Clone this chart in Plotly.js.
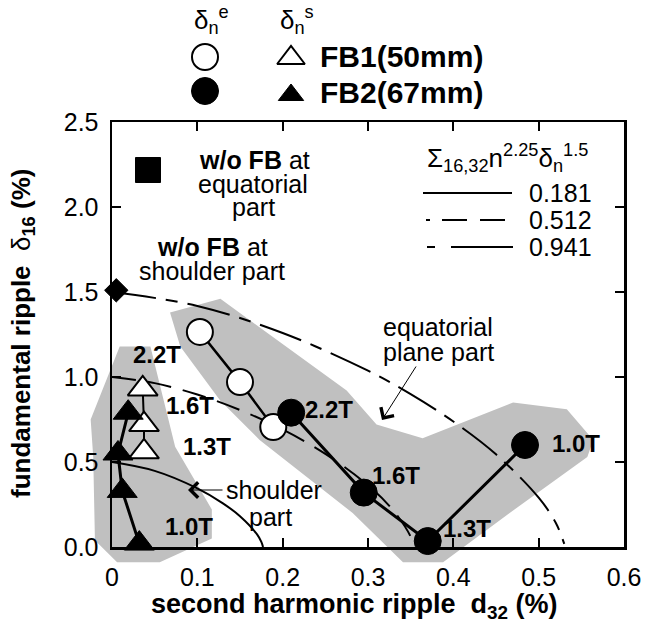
<!DOCTYPE html>
<html>
<head>
<meta charset="utf-8">
<script src="https://cdn.plot.ly/plotly-3.0.1.min.js"></script>
<style>html,body{margin:0;padding:0;background:#fff;}#chart{width:653px;height:632px;}</style>
</head>
<body>
<div id="chart"></div>
<script>
// ---------------- data ----------------
// equatorial plane ripple (circles), FB1 open, FB2 filled
const eqFB1X = [0.103, 0.150, 0.189];
const eqFB1Y = [1.265, 0.97, 0.706];
const eqFB2X = [0.210, 0.295, 0.370, 0.484];
const eqFB2Y = [0.79, 0.32, 0.035, 0.60];
const eqFB2Labels = ["2.2T", "1.6T", "1.3T", "1.0T"];
const eqFB2LabelX = [0.254, 0.333, 0.416, 0.544];
const eqFB2LabelY = [0.81, 0.42, 0.11, 0.61];

// shoulder part ripple (triangles)
const shFB1X = [0.036, 0.0375, 0.0375];
const shFB1Y = [0.93, 0.72, 0.56];
const shFB2X = [0.019, 0.007, 0.012, 0.032];
const shFB2Y = [0.79, 0.55, 0.33, 0.02];
const shFB2Labels = ["2.2T", "1.6T", "1.3T", "1.0T"];
const shFB2LabelX = [0.053, 0.091, 0.111, 0.090];
const shFB2LabelY = [1.13, 0.83, 0.59, 0.12];

// without FB at shoulder part (diamond)
const woShX = [0.005];
const woShY = [1.51];

// iso-lines of sum n^2.25 delta_n^1.5
const isoNames = ["0.181", "0.512", "0.941"];
const c181X = [0, 0.05, 0.10, 0.13, 0.15, 0.17, 0.175, 0.177];
const c181Y = [0.50, 0.448, 0.345, 0.257, 0.181, 0.074, 0.030, 0.0];
const c512X = [0, 0.05, 0.10, 0.15, 0.20, 0.25, 0.30, 0.33, 0.35, 0.354];
const c512Y = [1.00, 0.964, 0.897, 0.806, 0.691, 0.548, 0.363, 0.213, 0.061, 0.0];
const c941X = [0, 0.10, 0.20, 0.30, 0.35, 0.40, 0.45, 0.50, 0.52, 0.53];
const c941Y = [1.50, 1.418, 1.259, 1.037, 0.899, 0.738, 0.545, 0.290, 0.143, 0.018];

// shaded regions
const shoulderRegionX = [0.009, 0.045, 0.074, 0.117, 0.117, 0.056, 0.006, -0.020, -0.022, -0.025, 0.009];
const shoulderRegionY = [1.18, 1.18, 0.59, 0.22, 0.05, -0.09, -0.09, 0.04, 0.53, 0.75, 1.18];
const equatorRegionX = [0.068, 0.127, 0.275, 0.310, 0.364, 0.470, 0.533, 0.564, 0.557, 0.466, 0.388, 0.341, 0.282, 0.173, 0.127, 0.080, 0.068];
const equatorRegionY = [1.38, 1.46, 0.92, 0.72, 0.64, 0.85, 0.81, 0.63, 0.53, 0.20, -0.09, -0.09, 0.20, 0.63, 0.86, 1.18, 1.38];

// axis ticks
const xTickVals = [0, 0.1, 0.2, 0.3, 0.4, 0.5, 0.6];
const xTickText = ["0", "0.1", "0.2", "0.3", "0.4", "0.5", "0.6"];
const yTickVals = [0, 0.5, 1.0, 1.5, 2.0, 2.5];
const yTickText = ["0.0", "0.5", "1.0", "1.5", "2.0", "2.5"];

// ---------------- layout geometry ----------------
const W = 653, H = 632, L = 112, R = 624, T = 122, B = 547;
const XMAX = 0.6, YMAX = 2.5;
const sx = (R - L) / XMAX, sy = (B - T) / YMAX;
const FONT = "Liberation Sans, Arial, Helvetica, sans-serif";
const GRAY = "#c0c0c0";
const dash512 = "24px,12px";
const dash941 = "44px,10px,12px,10px";

const traces = [];
// shaded regions on an unclipped full-page axis pair with the same scale
traces.push({x: shoulderRegionX, y: shoulderRegionY, xaxis: "x", yaxis: "y", mode: "lines",
  fill: "toself", fillcolor: GRAY, line: {width: 0, color: GRAY}, hoverinfo: "skip", showlegend: false});
traces.push({x: equatorRegionX, y: equatorRegionY, xaxis: "x", yaxis: "y", mode: "lines",
  fill: "toself", fillcolor: GRAY, line: {width: 0, color: GRAY}, hoverinfo: "skip", showlegend: false});

// iso-lines
traces.push({x: c181X, y: c181Y, xaxis: "x2", yaxis: "y2", mode: "lines", line: {color: "#000", width: 2, shape: "spline"}, showlegend: false, cliponaxis: false});
traces.push({x: c512X, y: c512Y, xaxis: "x2", yaxis: "y2", mode: "lines", line: {color: "#000", width: 2, shape: "spline", dash: dash512}, showlegend: false, cliponaxis: false});
traces.push({x: c941X, y: c941Y, xaxis: "x2", yaxis: "y2", mode: "lines", line: {color: "#000", width: 2, shape: "spline", dash: dash941}, showlegend: false, cliponaxis: false});

// shoulder triangles
traces.push({x: shFB1X, y: shFB1Y, xaxis: "x2", yaxis: "y2", mode: "lines+markers", cliponaxis: false,
  line: {color: "#000", width: 2}, marker: {symbol: "triangle-up", size: 26, color: "#fff", line: {color: "#000", width: 2}}, showlegend: false});
traces.push({x: shFB2X, y: shFB2Y, xaxis: "x2", yaxis: "y2", mode: "lines+markers", cliponaxis: false,
  line: {color: "#000", width: 3}, marker: {symbol: "triangle-up", size: 26, color: "#000", line: {color: "#000", width: 1}}, showlegend: false});
// equatorial circles
traces.push({x: eqFB1X, y: eqFB1Y, xaxis: "x2", yaxis: "y2", mode: "lines+markers", cliponaxis: false,
  line: {color: "#000", width: 2.5}, marker: {symbol: "circle", size: 26, color: "#fff", line: {color: "#000", width: 2}}, showlegend: false});
traces.push({x: eqFB2X, y: eqFB2Y, xaxis: "x2", yaxis: "y2", mode: "lines+markers", cliponaxis: false,
  line: {color: "#000", width: 3}, marker: {symbol: "circle", size: 27, color: "#000", line: {color: "#000", width: 1}}, showlegend: false});
// w/o FB shoulder diamond
traces.push({x: woShX, y: woShY, xaxis: "x2", yaxis: "y2", mode: "markers", cliponaxis: false,
  marker: {symbol: "diamond", size: 18, color: "#000", line: {color: "#000", width: 1}}, showlegend: false});

// ---------------- legend keys (pixel space) ----------------
traces.push({x: [205], y: [57], xaxis: "x3", yaxis: "y3", mode: "markers", showlegend: false, cliponaxis: false,
  marker: {symbol: "circle", size: 26, color: "#fff", line: {color: "#000", width: 2}}});
traces.push({x: [205], y: [91], xaxis: "x3", yaxis: "y3", mode: "markers", showlegend: false, cliponaxis: false,
  marker: {symbol: "circle", size: 27, color: "#000", line: {color: "#000", width: 1}}});
traces.push({x: [291], y: [58], xaxis: "x3", yaxis: "y3", mode: "markers", showlegend: false, cliponaxis: false,
  marker: {symbol: "triangle-up", size: 24, color: "#fff", line: {color: "#000", width: 2}}});
traces.push({x: [291], y: [95], xaxis: "x3", yaxis: "y3", mode: "markers", showlegend: false, cliponaxis: false,
  marker: {symbol: "triangle-up", size: 22, color: "#000", line: {color: "#000", width: 1}}});
traces.push({x: [148], y: [170], xaxis: "x3", yaxis: "y3", mode: "markers", showlegend: false, cliponaxis: false,
  marker: {symbol: "square", size: 25, color: "#000", line: {color: "#000", width: 1}}});
traces.push({x: [423, 512], y: [193, 193], xaxis: "x3", yaxis: "y3", mode: "lines", showlegend: false, line: {color: "#000", width: 2}});
traces.push({x: [426, 505], y: [220, 220], xaxis: "x3", yaxis: "y3", mode: "lines", showlegend: false, line: {color: "#000", width: 2, dash: "4px,12px,25px,13px,25px,13px"}});
traces.push({x: [427, 513], y: [247, 247], xaxis: "x3", yaxis: "y3", mode: "lines", showlegend: false, line: {color: "#000", width: 2, dash: "8px,16px,62px,10px"}});

// ---------------- annotations ----------------
const ann = [];
function txt(x, y, text, size, opts) {
  ann.push(Object.assign({x: x, y: y, xref: "x3", yref: "y3", text: text, showarrow: false,
    font: {family: FONT, size: size, color: "#000"}, xanchor: "center", yanchor: "middle"}, opts || {}));
}
// T labels in data space
for (let i = 0; i < eqFB2Labels.length; i++) {
  ann.push({x: eqFB2LabelX[i], y: eqFB2LabelY[i], xref: "x2", yref: "y2", text: "<b>" + eqFB2Labels[i] + "</b>",
    showarrow: false, font: {family: FONT, size: 24, color: "#000"}});
}
for (let i = 0; i < shFB2Labels.length; i++) {
  ann.push({x: shFB2LabelX[i], y: shFB2LabelY[i], xref: "x2", yref: "y2", text: "<b>" + shFB2Labels[i] + "</b>",
    showarrow: false, font: {family: FONT, size: 24, color: "#000"}});
}
// top legend
txt(211, 20, "δ<sub>n</sub><sup>e</sup>", 26);
txt(297, 20, "δ<sub>n</sub><sup>s</sup>", 26);
txt(318, 56, "<b>FB1(50mm)</b>", 30, {xanchor: "left"});
txt(318, 92, "<b>FB2(67mm)</b>", 30, {xanchor: "left"});
// w/o FB texts
txt(254, 160, "<b>w/o FB</b> at", 25);
txt(253, 184, "equatorial", 25);
txt(253, 207, "part", 25);
txt(212, 247, "<b>w/o FB</b> at", 25);
txt(212, 271, "shoulder part", 25);
// iso-line legend
txt(507, 158, "Σ<sub>16,32</sub>n<sup>2.25</sup>δ<sub>n</sub><sup>1.5</sup>", 26);
txt(527, 193, isoNames[0], 25, {xanchor: "left"});
txt(527, 220, isoNames[1], 25, {xanchor: "left"});
txt(527, 247, isoNames[2], 25, {xanchor: "left"});
// region labels
txt(438, 327, "equatorial", 25);
txt(438, 352, "plane part", 25);
txt(274, 490, "shoulder", 25);
txt(270, 517, "part", 25);
// arrows
ann.push({x: 382, y: 420, xref: "x3", yref: "y3", ax: 35, ay: -55, axref: "pixel", ayref: "pixel", text: "",
  showarrow: true, arrowhead: 4, arrowsize: 3, arrowwidth: 1, arrowcolor: "#000"});
ann.push({x: 188, y: 490, xref: "x3", yref: "y3", ax: 36, ay: 0, text: "",
  showarrow: true, arrowhead: 4, arrowsize: 3, arrowwidth: 1, arrowcolor: "#000"});
// axis titles
txt(354, 606, "<b>second harmonic ripple  d<sub>32</sub> (%)</b>", 27);
txt(22, 334, "<b>fundamental ripple</b>  δ<sub><b>16</b></sub> <b>(%)</b>", 26, {textangle: -90});

const axCommon = {showgrid: false, zeroline: false, showline: true, linecolor: "#000", linewidth: 2.5,
  ticks: "inside", ticklen: 9, tickwidth: 2, tickcolor: "#000", mirror: "ticks", fixedrange: true,
  tickfont: {family: FONT, size: 25, color: "#000"}};

const layout = {
  width: W, height: H, margin: {l: 0, r: 0, t: 0, b: 0, pad: 0},
  paper_bgcolor: "#fff", plot_bgcolor: "rgba(0,0,0,0)", showlegend: false,
  xaxis: {domain: [0, 1], range: [-L / sx, XMAX + (W - R) / sx], visible: false, fixedrange: true, anchor: "y"},
  yaxis: {domain: [0, 1], range: [-(H - B) / sy, YMAX + T / sy], visible: false, fixedrange: true, anchor: "x"},
  xaxis2: Object.assign({}, axCommon, {domain: [L / W, R / W], range: [0, XMAX], anchor: "y2",
    tickvals: xTickVals, ticktext: xTickText, ticklabelstandoff: 6}),
  yaxis2: Object.assign({}, axCommon, {domain: [(H - B) / H, (H - T) / H], range: [0, YMAX], anchor: "x2",
    tickvals: yTickVals, ticktext: yTickText, ticklabelstandoff: 6}),
  xaxis3: {domain: [0, 1], range: [0, W], visible: false, fixedrange: true, anchor: "y3"},
  yaxis3: {domain: [0, 1], range: [H, 0], visible: false, fixedrange: true, anchor: "x3"},
  annotations: ann
};

Plotly.newPlot("chart", traces, layout, {displayModeBar: false, staticPlot: true});
</script>
</body>
</html>
